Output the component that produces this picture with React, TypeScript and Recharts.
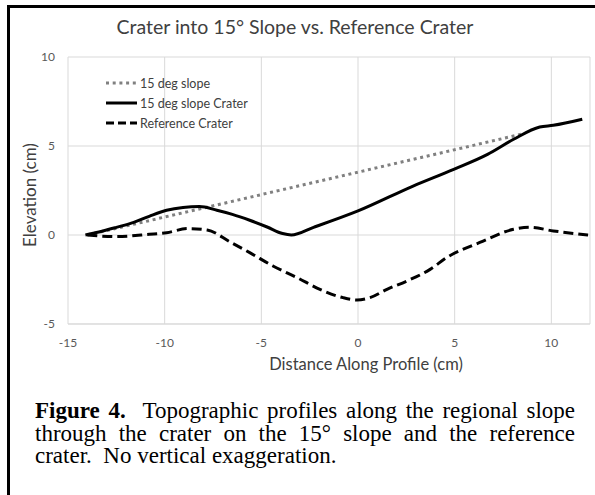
import { LineChart, Line, XAxis, YAxis, CartesianGrid, Legend } from "recharts"

// 15 deg slope reference line (straight)
const slopeX = [-14.0, 8.6]
const slopeY = [0, 5.7]

// crater on the 15 deg slope
const craterX = [-14.1, -13.4, -12.5, -11.6, -10.8, -9.9, -9.05, -8.2, -7.3, -6.5, -5.6, -4.7, -3.9, -3.45, -2.3, 0, 2.85, 4.95, 6.7, 8.05, 9.4, 10.1, 11.6]
const craterY = [0, 0.17, 0.43, 0.71, 1.05, 1.39, 1.55, 1.6, 1.39, 1.16, 0.83, 0.45, 0.08, 0, 0.43, 1.35, 2.75, 3.69, 4.53, 5.38, 6.07, 6.16, 6.5]

// reference crater (flat ground)
const refX = [-14.0, -12.5, -10.8, -9.9, -8.8, -7.8, -6.6, -5.6, -4.4, -3.16, -1.97, -0.78, -0.05, 0.62, 1.5, 2.54, 3.73, 4.6, 6.3, 8.05, 8.9, 10.1, 11.9]
const refY = [0, -0.09, 0.04, 0.13, 0.36, 0.28, -0.4, -0.99, -1.74, -2.39, -3.05, -3.52, -3.65, -3.52, -3.05, -2.58, -1.93, -1.26, -0.42, 0.32, 0.43, 0.23, 0]

const xTicks = [-15, -10, -5, 0, 5, 10]
const yTicks = [-5, 0, 5, 10]

const toPoints = (xs: number[], ys: number[]) => xs.map((x, i) => ({ x, y: ys[i] }))

const slopeData = toPoints(slopeX, slopeY)
const craterData = toPoints(craterX, craterY)
const refData = toPoints(refX, refY)

const legendItems = [
  { name: "15 deg slope", color: "#808080", dash: "3 3.7" },
  { name: "15 deg slope Crater", color: "#000000", dash: undefined },
  { name: "Reference Crater", color: "#000000", dash: "8 4" },
]

const FONT = "Lato, 'Open Sans', sans-serif"
const SERIF = "'Liberation Serif', 'Times New Roman', serif"

function LegendBox() {
  return (
    <div style={{ fontFamily: FONT, fontSize: 12.5, color: "#404040" }}>
      {legendItems.map((it) => (
        <div key={it.name} style={{ display: "flex", alignItems: "center", height: 20 }}>
          <svg width={32} height={6} style={{ marginRight: 2 }}>
            <line x1={0} y1={3} x2={31} y2={3} stroke={it.color} strokeWidth={3} strokeDasharray={it.dash} />
          </svg>
          <span>{it.name}</span>
        </div>
      ))}
    </div>
  )
}

const justified = { textAlign: "justify" as const, textAlignLast: "justify" as const }

export default function App() {
  return (
    <div style={{ position: "absolute", left: 0, top: 0, width: 595, height: 495, overflow: "hidden", background: "#fff" }}>
      {/* frame */}
      <div style={{ position: "absolute", left: 7, top: 5, width: 620, height: 520, borderLeft: "3px solid #000", borderTop: "3px solid #000" }} />

      <div style={{ position: "absolute", left: 0, top: 15, width: 590, textAlign: "center", fontFamily: FONT, fontSize: 19.5, color: "#404040" }}>
        Crater into 15° Slope vs. Reference Crater
      </div>

      <div style={{ position: "absolute", left: 0, top: 0 }}>
        <LineChart width={595} height={390} margin={{ top: 57, right: 5, bottom: 36, left: 0 }}>
          <CartesianGrid stroke="#d9d9d9" />
          <XAxis
            type="number"
            dataKey="x"
            domain={[-15, 12]}
            ticks={xTicks}
            allowDataOverflow
            height={30}
            tickSize={0}
            tickMargin={14}
            stroke="#d9d9d9"
            tick={{ fill: "#595959", fontSize: 12, fontFamily: FONT }}
          />
          <YAxis
            type="number"
            dataKey="y"
            domain={[-5, 10]}
            ticks={yTicks}
            width={68}
            axisLine={false}
            tickLine={false}
            tickSize={0}
            tickMargin={13}
            tick={{ fill: "#595959", fontSize: 12, fontFamily: FONT }}
          />
          <Legend
            layout="vertical"
            align="center"
            verticalAlign="middle"
            wrapperStyle={{ left: 106, top: 73, width: 200 }}
            content={() => <LegendBox />}
          />
          <Line data={slopeData} dataKey="y" name="15 deg slope" type="linear" stroke="#808080" strokeWidth={3} strokeDasharray="3 3.7" dot={false} isAnimationActive={false} />
          <Line data={craterData} dataKey="y" name="15 deg slope Crater" type="monotone" stroke="#000" strokeWidth={3} dot={false} isAnimationActive={false} />
          <Line data={refData} dataKey="y" name="Reference Crater" type="monotone" stroke="#000" strokeWidth={3} strokeDasharray="10 5" dot={false} isAnimationActive={false} />
        </LineChart>
      </div>

      <div style={{ position: "absolute", left: 246, top: 354, width: 240, textAlign: "center", fontFamily: FONT, fontSize: 16.5, color: "#404040" }}>
        Distance Along Profile (cm)
      </div>
      <div style={{ position: "absolute", left: 30 - 60, top: 195 - 11, width: 120, height: 22, lineHeight: "22px", textAlign: "center", transform: "rotate(-90deg)", fontFamily: FONT, fontSize: 17, color: "#404040", whiteSpace: "nowrap" }}>
        Elevation (cm)
      </div>

      <div style={{ position: "absolute", left: 35, top: 400, width: 540, fontFamily: SERIF, fontSize: 23, lineHeight: "22.7px", color: "#000" }}>
        <div style={justified}>
          <b>Figure 4.</b>{"\u00a0 "}Topographic profiles along the regional slope
        </div>
        <div style={justified}>through the crater on the 15° slope and the reference</div>
        <div>crater.{"\u00a0 "}No vertical exaggeration.</div>
      </div>
    </div>
  )
}
